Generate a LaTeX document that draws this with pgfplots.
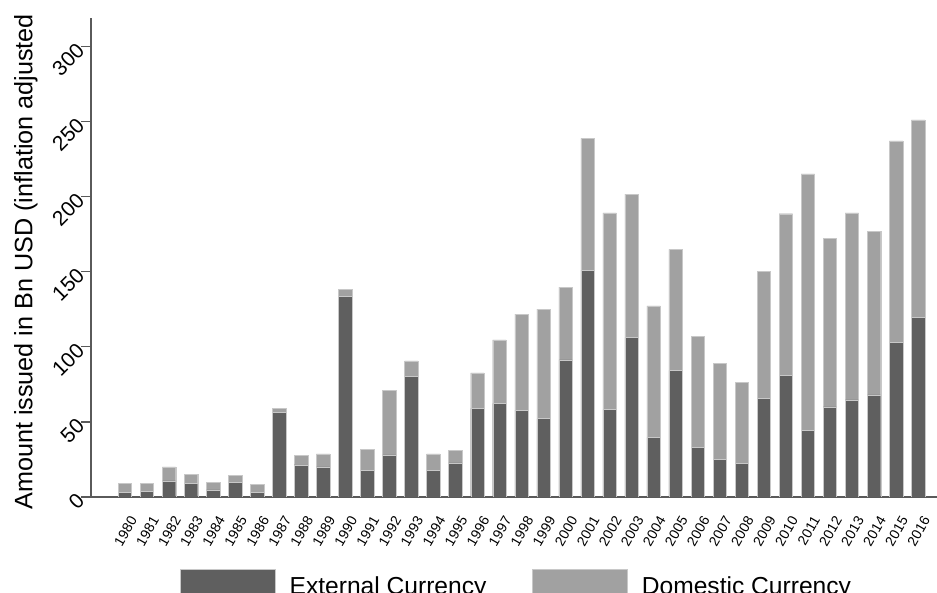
\documentclass[border=0pt]{standalone}
\usepackage{pgfplots}
\pgfplotsset{compat=1.18}
\usepackage{fontspec}
\setmainfont{Liberation Sans}
\definecolor{darkbar}{HTML}{5F5F5F}
\definecolor{lightbar}{HTML}{A1A1A1}
\definecolor{axisgray}{HTML}{5A5A5A}
\definecolor{edgegray}{HTML}{C8C8C8}
\pgfplotsset{
  legbox/.style={legend image code/.code={\fill[##1] (0pt,-17pt) rectangle (95pt,17pt);}},
}
\pgfplotstableread{
year ext dom
1980 2.9 6.2
1981 3.8 5.3
1982 10.7 9.3
1983 8.9 6.2
1984 4.7 5.1
1985 9.8 4.6
1986 2.9 5.3
1987 56.2 2.9
1988 21.5 6.3
1989 20.0 8.7
1990 133.5 4.9
1991 17.6 14.2
1992 28.0 42.9
1993 80.4 10.3
1994 17.6 11.1
1995 22.7 8.2
1996 59.1 23.6
1997 62.4 42.3
1998 57.8 64.0
1999 52.2 72.9
2000 91.3 48.5
2001 151.1 87.8
2002 58.4 130.9
2003 106.4 95.4
2004 39.8 87.5
2005 84.4 80.5
2006 33.3 73.8
2007 24.9 64.2
2008 22.4 54.0
2009 65.5 84.7
2010 81.1 107.6
2011 44.4 170.9
2012 60.0 112.2
2013 64.7 124.6
2014 68.0 108.9
2015 103.1 134.2
2016 119.8 131.5
}\datatable
\begin{document}
\begin{tikzpicture}
\begin{axis}[
  scale only axis, width=846pt, height=479pt,
  xmin=1978.46, xmax=2016.86, ymin=0, ymax=319.1,
  ybar stacked, bar width=0.61,
  axis x line*=bottom, axis y line*=left,
  axis line style={axisgray, line width=1.3pt},
  xtick={1980,1981,...,2016},
  ytick={0,50,...,300},
  xtick style={draw=none},
  ytick style={axisgray, line width=1.2pt},
  tick align=outside,
  major tick length=10pt,
  /pgf/number format/assume math mode=true,
  /pgf/number format/1000 sep={},
  yticklabel style={rotate=45, anchor=east, inner sep=0.5pt, font=\fontsize{21}{24}\selectfont},
  xticklabel style={xshift=4pt, yshift=-8pt, rotate=60, anchor=north east, inner sep=0pt, font=\fontsize{14}{16}\selectfont},
  ylabel={Amount issued in Bn USD (inflation adjusted},
  ylabel style={at={(axis description cs:-0.0910,-0.0271)}, anchor=north west, inner sep=0pt, font=\fontsize{25.2}{30}\selectfont},
  legend style={at={(axis description cs:0.1052,-0.1503)}, anchor=north west, draw=none, fill=none, inner sep=0pt,
    legend columns=2, font=\fontsize{24.6}{28}\selectfont,
    /tikz/every odd column/.append style={column sep=12pt},
    /tikz/every even column/.append style={column sep=44pt}},
  legend cell align=left,
]
\addplot[fill=darkbar, draw=edgegray, line width=0.4pt, legbox] table[x=year, y=ext] {\datatable};
\addlegendentry{External Currency}
\addplot[fill=lightbar, draw=edgegray, line width=0.4pt, legbox] table[x=year, y=dom] {\datatable};
\addlegendentry{Domestic Currency}
\end{axis}
\pgfresetboundingbox
\useasboundingbox (-91pt,-96pt) rectangle (846pt,497pt);
\end{tikzpicture}
\end{document}
